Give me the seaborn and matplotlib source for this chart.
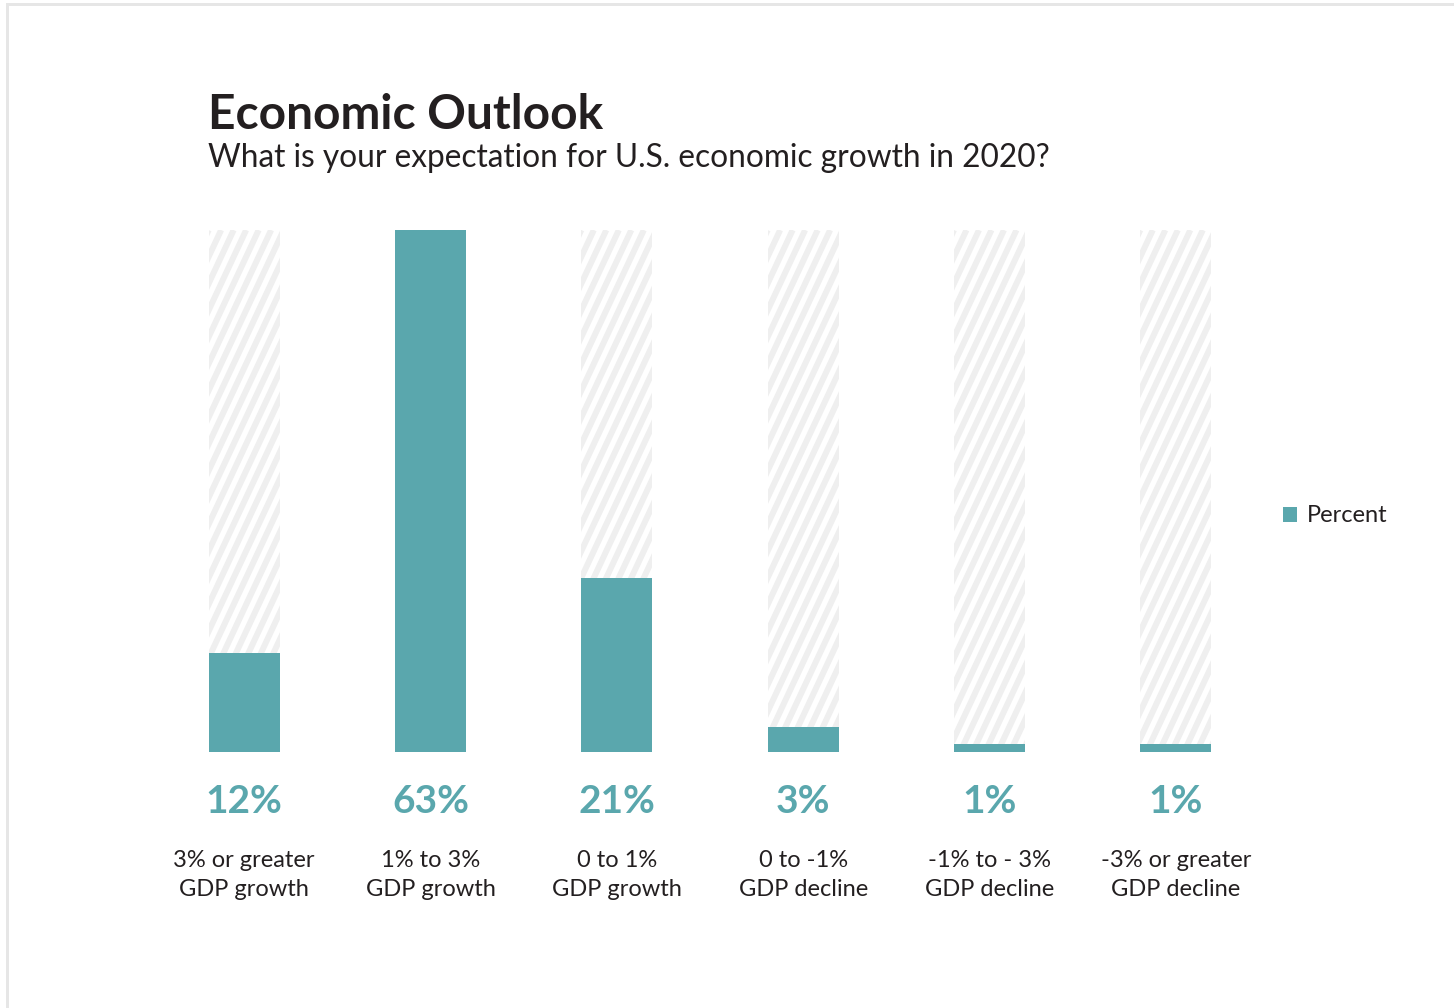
import numpy as np
import pandas as pd
import matplotlib
matplotlib.use("Agg")
import matplotlib.pyplot as plt
import matplotlib.transforms as mtransforms
from matplotlib.collections import LineCollection
from matplotlib.patches import Rectangle
import seaborn as sns

# Survey results
categories = [
    "3% or greater\nGDP growth",
    "1% to 3%\nGDP growth",
    "0 to 1%\nGDP growth",
    "0 to -1%\nGDP decline",
    "-1% to - 3%\nGDP decline",
    "-3% or greater\nGDP decline",
]
percent = [12, 63, 21, 3, 1, 1]

TEAL = "#5aa7ad"
INK = "#231f20"
STRIPE = "#efefef"
FONT = ["Lato", "DejaVu Sans"]

sns.set_theme(style="white")
plt.rcParams["font.family"] = FONT

W, H = 1454, 1008
fig = plt.figure(figsize=(W / 100, H / 100), dpi=100)
fig.patch.set_facecolor("white")


def fx(px):
    return px / W


def fy(py):
    return (H - py) / H


# light frame along the top and left edges
fig.add_artist(Rectangle((fx(6), fy(6)), fx(W) - fx(6), 3 / H,
                         transform=fig.transFigure, color="#e6e6e6", lw=0))
fig.add_artist(Rectangle((fx(6), 0), 3 / W, fy(3),
                         transform=fig.transFigure, color="#e6e6e6", lw=0))

ax = fig.add_axes([fx(151), fy(752), fx(1269) - fx(151), fy(230) - fy(752)])

df = pd.DataFrame({"category": categories, "percent": percent})
df["full"] = df["percent"].max()

bar_w = 71 / 186.3

# full-height background track for each category
sns.barplot(data=df, x="category", y="full", color="white", width=bar_w,
            saturation=1, linewidth=0, ax=ax, zorder=1)
track_patches = list(ax.patches)

# actual responses
sns.barplot(data=df, x="category", y="percent", color=TEAL, width=bar_w,
            saturation=1, linewidth=0, ax=ax, zorder=3, label="Percent")

ax.set_xlim(-0.5, len(categories) - 0.5)
ax.set_ylim(0, df["full"].max())
ax.set_axis_off()

# diagonal stripes inside each background track
slope = 2.14          # rise over run, in pixels
gap = 12.5            # horizontal distance between stripes, pixels
for p in track_patches:
    bb = p.get_window_extent()
    x0, x1, y0, y1 = bb.x0, bb.x1, bb.y0, bb.y1
    run = (y1 - y0) / slope
    segs = []
    xs = np.arange(x0 - run - gap, x1 + gap, gap)
    for xs0 in xs:
        segs.append([(xs0, y0), (xs0 + run, y1)])
    lc = LineCollection(segs, colors=STRIPE, linewidths=6 * 0.72,
                        transform=mtransforms.IdentityTransform(), zorder=2)
    ax.add_collection(lc)
    lc.set_clip_path(p)

# value and category labels beneath the bars
blend = mtransforms.blended_transform_factory(ax.transData, fig.transFigure)
for i, (cat, v) in enumerate(zip(categories, percent)):
    ax.text(i, fy(813), f"{v}%", transform=blend, ha="center", va="baseline",
            fontsize=28, fontweight="bold", color=TEAL, clip_on=False)
    for j, line in enumerate(cat.split("\n")):
        ax.text(i, fy(867 + 29 * j), line, transform=blend, ha="center",
                va="baseline", fontsize=17, color=INK, clip_on=False)

# title block
fig.text(fx(208), fy(129), "Economic Outlook", ha="left", va="baseline",
         fontsize=34.5, fontweight="bold", color=INK)
fig.text(fx(208), fy(167), "What is your expectation for U.S. economic growth in 2020?",
         ha="left", va="baseline", fontsize=22.8, color=INK)

# legend
handles, labels = ax.get_legend_handles_labels()
ax.legend(handles, labels, loc="center left",
          bbox_to_anchor=(fx(1283), fy(516)), bbox_transform=fig.transFigure,
          frameon=False, fontsize=17, handlelength=0.6, handleheight=0.6,
          handletextpad=0.42, borderpad=0, borderaxespad=0,
          labelcolor=INK)

fig.savefig("out.png", dpi=100, facecolor="white")
